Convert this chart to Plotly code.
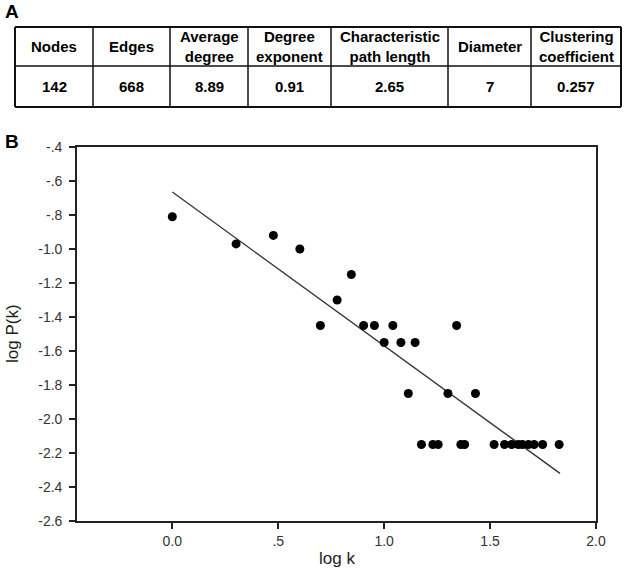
import plotly.graph_objects as go

FONT = "Liberation Sans, Arial, sans-serif"

# --- 数据 ---
log_k = [0.0, 0.301, 0.477, 0.602, 0.699, 0.778, 0.845, 0.903, 0.954, 1.0,
         1.041, 1.079, 1.114, 1.146, 1.176, 1.230, 1.255, 1.301, 1.342, 1.362,
         1.380, 1.431, 1.519, 1.568, 1.602, 1.633, 1.653, 1.681, 1.708, 1.748,
         1.826]
log_pk = [-0.81, -0.97, -0.92, -1.0, -1.45, -1.30, -1.15, -1.45, -1.45, -1.55,
          -1.45, -1.55, -1.85, -1.55, -2.15, -2.15, -2.15, -1.85, -1.45, -2.15,
          -2.15, -1.85, -2.15, -2.15, -2.15, -2.15, -2.15, -2.15, -2.15, -2.15,
          -2.15]

# 拟合直线端点
fit_x = [0.0, 1.83]
fit_y = [-0.665, -2.32]

y_ticks = [-0.4, -0.6, -0.8, -1.0, -1.2, -1.4, -1.6, -1.8, -2.0, -2.2, -2.4, -2.6]
y_tick_text = ["-.4", "-.6", "-.8", "-1.0", "-1.2", "-1.4", "-1.6", "-1.8",
               "-2.0", "-2.2", "-2.4", "-2.6"]
x_ticks = [0.0, 0.5, 1.0, 1.5, 2.0]
x_tick_text = ["0.0", ".5", "1.0", "1.5", "2.0"]

table_headers = ["Nodes", "Edges", "Average<br>degree", "Degree<br>exponent",
                 "Characteristic<br>path length", "Diameter",
                 "Clustering<br>coefficient"]
table_values = ["142", "668", "8.89", "0.91", "2.65", "7", "0.257"]

# --- 布局 (像素) ---
W, H = 625, 570
M = dict(l=77, r=29, t=147, b=49)


def px(x):
    # 像素 -> paper 坐标
    return (x - M['l']) / (W - M['l'] - M['r'])


def py(y):
    return (H - M['b'] - y) / (H - M['t'] - M['b'])


col_edges = [15, 93, 170, 248, 331, 448, 531, 621]
row_edges = [27, 66, 107]

fig = go.Figure()

fig.add_trace(go.Scatter(
    x=fit_x, y=fit_y, mode='lines',
    line=dict(color='#333333', width=1.3),
    showlegend=False, hoverinfo='skip'
))

fig.add_trace(go.Scatter(
    x=log_k, y=log_pk, mode='markers',
    marker=dict(size=9, color='black'),
    showlegend=False
))

shapes = []
# 表格横线
for i, y in enumerate(row_edges):
    shapes.append(dict(
        type='line', xref='paper', yref='paper',
        x0=px(col_edges[0]), x1=px(col_edges[-1]), y0=py(y), y1=py(y),
        line=dict(color='#111111', width=2 if i != 1 else 1.5)
    ))
# 表格竖线
for i, x in enumerate(col_edges):
    edge = i == 0 or i == len(col_edges) - 1
    shapes.append(dict(
        type='line', xref='paper', yref='paper',
        x0=px(x), x1=px(x), y0=py(row_edges[0]), y1=py(row_edges[-1]),
        line=dict(color='#111111', width=2 if edge else 1.5)
    ))

annotations = []
for i in range(len(table_headers)):
    cx = (col_edges[i] + col_edges[i + 1]) / 2
    annotations.append(dict(
        x=px(cx), y=py((row_edges[0] + row_edges[1]) / 2),
        xref='paper', yref='paper', text='<b>%s</b>' % table_headers[i],
        showarrow=False, xanchor='center', yanchor='middle',
        font=dict(size=15, family=FONT, color='black')
    ))
    annotations.append(dict(
        x=px(cx), y=py((row_edges[1] + row_edges[2]) / 2),
        xref='paper', yref='paper', text='<b>%s</b>' % table_values[i],
        showarrow=False, xanchor='center', yanchor='middle',
        font=dict(size=15, family=FONT, color='black')
    ))

# 面板标签
annotations.append(dict(
    x=px(3), y=py(11), xref='paper', yref='paper', text='<b>A</b>',
    showarrow=False, xanchor='left', yanchor='middle',
    font=dict(size=19, family=FONT, color='black')
))
annotations.append(dict(
    x=px(3), y=py(142), xref='paper', yref='paper', text='<b>B</b>',
    showarrow=False, xanchor='left', yanchor='middle',
    font=dict(size=19, family=FONT, color='black')
))

# 坐标轴标题
annotations.append(dict(
    x=px(12), y=0.5, xref='paper', yref='paper', text='log P(k)',
    textangle=-90, showarrow=False, xanchor='center', yanchor='middle',
    font=dict(size=17, family=FONT, color='#222222')
))
annotations.append(dict(
    x=0.5, y=py(558), xref='paper', yref='paper', text='log k',
    showarrow=False, xanchor='center', yanchor='middle',
    font=dict(size=17, family=FONT, color='#222222')
))

fig.update_layout(
    width=W, height=H, autosize=False,
    margin=M,
    paper_bgcolor='white', plot_bgcolor='white',
    showlegend=False,
    shapes=shapes,
    annotations=annotations,
    xaxis=dict(
        range=[-0.45, 2.0], tickvals=x_ticks, ticktext=x_tick_text,
        showgrid=False, zeroline=False,
        showline=True, linecolor='#222222', linewidth=1.6, mirror=True,
        ticks='outside', ticklen=6, tickwidth=1.5, tickcolor='#222222',
        tickfont=dict(size=14, family=FONT, color='#333333')
    ),
    yaxis=dict(
        range=[-2.6, -0.4], tickvals=y_ticks, ticktext=y_tick_text,
        showgrid=False, zeroline=False,
        showline=True, linecolor='#222222', linewidth=1.6, mirror=True,
        ticks='outside', ticklen=6, tickwidth=1.5, tickcolor='#222222',
        ticklabelstandoff=4,
        tickfont=dict(size=14, family=FONT, color='#333333')
    )
)

# 去掉页面 body 的默认 8px 边距, 隐藏工具栏
fig.write_html("out.html", config={'displayModeBar': False},
               post_script="document.body.style.margin='0px';")
